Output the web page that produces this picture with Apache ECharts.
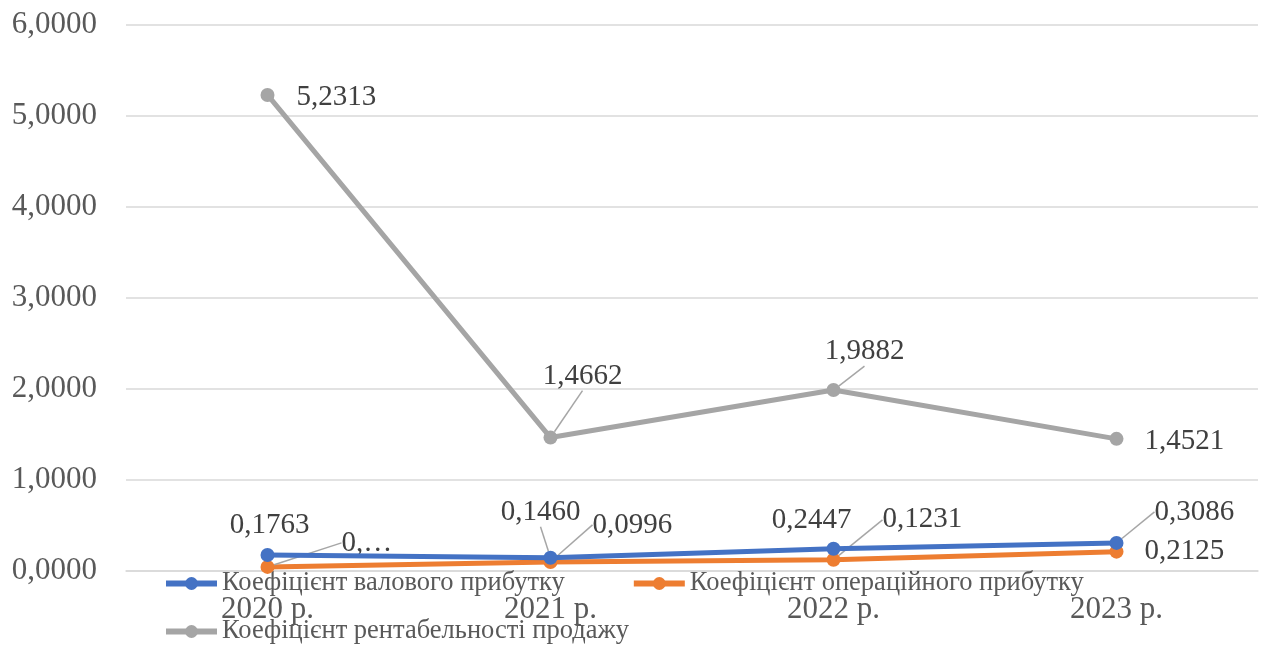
<!DOCTYPE html>
<html>
<head>
<meta charset="utf-8">
<script src="https://cdn.jsdelivr.net/npm/echarts@6/dist/echarts.min.js"></script>
<style>
  html, body { margin: 0; padding: 0; background: #ffffff; }
  #chart { width: 1261px; height: 648px; }
</style>
</head>
<body>
<div id="chart"></div>
<script>
// Years on the category axis
const years = ['2020 р.', '2021 р.', '2022 р.', '2023 р.'];

// Ratio values per year
const grossProfitRatio = [0.1763, 0.1460, 0.2447, 0.3086];
const operatingProfitRatio = [0.0450, 0.0996, 0.1231, 0.2125];
const salesProfitabilityRatio = [5.2313, 1.4662, 1.9882, 1.4521];

// Series names
const seriesNames = [
  'Коефіцієнт валового прибутку',
  'Коефіцієнт операційного прибутку',
  'Коефіцієнт рентабельності продажу'
];

const colors = ['#4472C4', '#ED7D31', '#A5A5A5'];
const FONT = '"Liberation Serif", "Times New Roman", serif';

const fmt = v => v.toFixed(4).replace('.', ',');

// Label placement per point: [position, dx, dy, leader line]
const labelPlacement = [
  [['top', 2, -3, false], ['top', -10, -19, true], ['top', -22, -2, false], ['right', 26, -31, true]],
  [['right', 62, -24, true], ['right', 30, -37, true], ['right', 37, -40, true], ['right', 16, 0, false]],
  [['right', 17, 2, false], ['top', 32, -35, true], ['top', 31, -12, true], ['right', 16, 3, false]]
];

function makeSeries(idx, values) {
  return {
    name: seriesNames[idx],
    type: 'line',
    data: values.map((v, i) => ({
      value: v,
      label: { position: labelPlacement[idx][i][0] },
      labelLine: { show: labelPlacement[idx][i][3] }
    })),
    symbol: 'circle',
    symbolSize: 14,
    lineStyle: { width: 5, color: colors[idx] },
    itemStyle: { color: colors[idx] },
    label: {
      show: true,
      fontFamily: FONT,
      fontSize: 29,
      color: '#404040',
      distance: 5,
      formatter: p => (idx === 1 && p.dataIndex === 0) ? '0,…' : fmt(p.value)
    },
    labelLine: {
      show: true,
      lineStyle: { color: '#A6A6A6', width: 1.5 }
    },
    labelLayout: p => {
      const pl = labelPlacement[idx][p.dataIndex];
      return { dx: pl[1], dy: pl[2] };
    },
    z: 3 + (2 - idx)
  };
}

const legendText = { fontFamily: FONT, fontSize: 26.5, color: '#595959' };

const chart = echarts.init(document.getElementById('chart'), null, { renderer: 'canvas' });

chart.setOption({
  backgroundColor: '#ffffff',
  animation: false,
  color: colors,
  grid: { left: 126, right: 3, top: 25, bottom: 77, containLabel: false },
  xAxis: {
    type: 'category',
    data: years,
    boundaryGap: true,
    axisLine: { show: true, lineStyle: { color: '#D9D9D9', width: 1.5 } },
    axisTick: { show: false },
    axisLabel: { fontFamily: FONT, fontSize: 31, color: '#595959', margin: 23 }
  },
  yAxis: {
    type: 'value',
    min: 0,
    max: 6,
    interval: 1,
    axisLine: { show: false },
    axisTick: { show: false },
    splitLine: { lineStyle: { color: '#D9D9D9', width: 1.5 } },
    axisLabel: {
      fontFamily: FONT, fontSize: 31, color: '#595959', margin: 29,
      formatter: v => fmt(v)
    }
  },
  legend: [
    {
      data: [seriesNames[0], seriesNames[1]],
      left: 163, top: 570,
      itemWidth: 51, itemHeight: 16, itemGap: 66,
      lineStyle: { width: 6 },
      textStyle: legendText,
      padding: 0
    },
    {
      data: [seriesNames[2]],
      left: 163, top: 618,
      itemWidth: 51, itemHeight: 16,
      lineStyle: { width: 6 },
      textStyle: legendText,
      padding: 0
    }
  ],
  series: [
    makeSeries(0, grossProfitRatio),
    makeSeries(1, operatingProfitRatio),
    makeSeries(2, salesProfitabilityRatio)
  ]
});
</script>
</body>
</html>
